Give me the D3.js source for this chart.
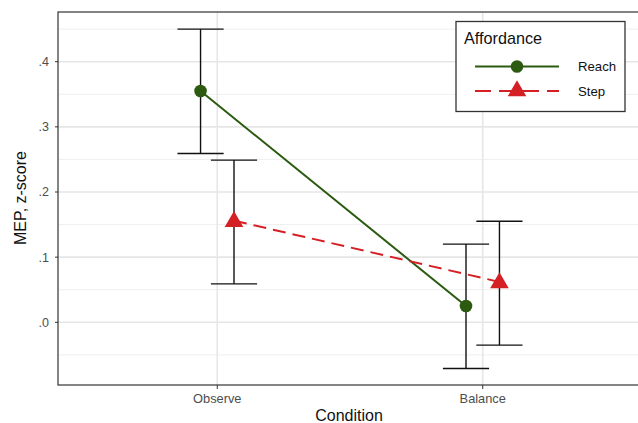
<!DOCTYPE html>
<html><head><meta charset="utf-8">
<script src="https://cdn.jsdelivr.net/npm/d3@7"></script>
<style>body{margin:0;background:#fff}svg{display:block}text{font-family:Arial,"Liberation Sans",sans-serif}</style>
</head><body><div id="chart"></div>
<script>
const categories = ["Observe", "Balance"];
const seriesNames = ["Reach", "Step"];
const reachMean = [0.355, 0.025];
const reachLow  = [0.259, -0.071];
const reachHigh = [0.450, 0.120];
const stepMean  = [0.156, 0.062];
const stepLow   = [0.059, -0.035];
const stepHigh  = [0.249, 0.155];
const yTicks = [0, 0.1, 0.2, 0.3, 0.4];
const yTickLabels = [".0", ".1", ".2", ".3", ".4"];
const yMinor = [-0.05, 0.05, 0.15, 0.25, 0.35, 0.45];

const W = 638, H = 423;
const P = {left: 58, top: 12, right: 642, bottom: 385};
const svg = d3.select("#chart").append("svg").attr("width", W).attr("height", H);

const x = d3.scaleLinear().domain([0.4, 2.6]).range([P.left, P.right]);
const y = d3.scaleLinear().domain([0, 0.4]).range([322.3, 61.7]);
const dodge = 0.063;
const colors = {Reach: "#2b5a10", Step: "#d42024"};

// grid
const g = svg.append("g");
g.selectAll(".minor").data(yMinor).join("line")
  .attr("x1", P.left).attr("x2", P.right).attr("y1", d => y(d)).attr("y2", d => y(d))
  .attr("stroke", "#efefef").attr("stroke-width", 1);
g.selectAll(".major").data(yTicks).join("line")
  .attr("x1", P.left).attr("x2", P.right).attr("y1", d => y(d)).attr("y2", d => y(d))
  .attr("stroke", "#e6e6e6").attr("stroke-width", 1.6);
g.selectAll(".vmaj").data(categories).join("line")
  .attr("x1", (d,i) => x(i+1)).attr("x2", (d,i) => x(i+1)).attr("y1", P.top).attr("y2", P.bottom)
  .attr("stroke", "#e6e6e6").attr("stroke-width", 1.6);

const series = [
  {name: "Reach", mean: reachMean, low: reachLow, high: reachHigh, off: -dodge, dash: null},
  {name: "Step", mean: stepMean, low: stepLow, high: stepHigh, off: dodge, dash: "13,7"}
];

// error bars
const capHalf = 0.087;
series.forEach(s => {
  const eg = svg.append("g").attr("stroke", "#111").attr("stroke-width", 1.4).attr("fill", "none");
  categories.forEach((c, i) => {
    const cx = i + 1 + s.off;
    eg.append("line").attr("x1", x(cx)).attr("x2", x(cx)).attr("y1", y(s.low[i])).attr("y2", y(s.high[i]));
    [s.low[i], s.high[i]].forEach(v => {
      eg.append("line").attr("x1", x(cx - capHalf)).attr("x2", x(cx + capHalf)).attr("y1", y(v)).attr("y2", y(v));
    });
  });
});

// lines and points
const tri = d3.symbol().type(d3.symbolTriangle).size(150);
series.forEach(s => {
  const pts = categories.map((c, i) => [x(i + 1 + s.off), y(s.mean[i])]);
  svg.append("path").attr("d", d3.line()(pts)).attr("fill", "none")
    .attr("stroke", colors[s.name]).attr("stroke-width", 2)
    .attr("stroke-dasharray", s.dash);
  pts.forEach(p => {
    if (s.name === "Reach") {
      svg.append("circle").attr("cx", p[0]).attr("cy", p[1]).attr("r", 6.3).attr("fill", colors[s.name]);
    } else {
      svg.append("path").attr("d", tri).attr("transform", `translate(${p[0]},${p[1]+1})`).attr("fill", colors[s.name]);
    }
  });
});

// panel border
svg.append("rect").attr("x", P.left).attr("y", P.top).attr("width", P.right - P.left).attr("height", P.bottom - P.top)
  .attr("fill", "none").attr("stroke", "#333").attr("stroke-width", 1.2);

// y axis ticks & labels
yTicks.forEach((t, i) => {
  svg.append("line").attr("x1", P.left - 3).attr("x2", P.left).attr("y1", y(t)).attr("y2", y(t)).attr("stroke", "#333");
  svg.append("text").attr("x", P.left - 9).attr("y", y(t)).attr("dy", "0.35em").attr("text-anchor", "end")
    .attr("font-size", 12.5).attr("fill", "#4d4d4d").text(yTickLabels[i]);
});
// x axis ticks & labels
categories.forEach((c, i) => {
  svg.append("line").attr("x1", x(i+1)).attr("x2", x(i+1)).attr("y1", P.bottom).attr("y2", P.bottom + 4).attr("stroke", "#333");
  svg.append("text").attr("x", x(i+1)).attr("y", 403).attr("text-anchor", "middle")
    .attr("font-size", 12.8).attr("fill", "#4d4d4d").text(c);
});

// axis titles
svg.append("text").attr("x", 349).attr("y", 421).attr("text-anchor", "middle").attr("font-size", 16).attr("fill", "#111").text("Condition");
svg.append("text").attr("transform", "translate(26,198) rotate(-90)").attr("text-anchor", "middle")
  .attr("font-size", 16).attr("fill", "#111").text("MEP, z-score");

// legend
const L = svg.append("g");
L.append("rect").attr("x", 456).attr("y", 21.5).attr("width", 169).attr("height", 90)
  .attr("fill", "#fff").attr("stroke", "#333").attr("stroke-width", 1.3);
L.append("text").attr("x", 464).attr("y", 44).attr("font-size", 16.2).attr("fill", "#111").text("Affordance");
const ly = [66.5, 91];
series.forEach((s, i) => {
  L.append("line").attr("x1", 475).attr("x2", 559).attr("y1", ly[i]).attr("y2", ly[i])
    .attr("stroke", colors[s.name]).attr("stroke-width", 2).attr("stroke-dasharray", s.name === "Step" ? "16,8" : null);
  if (s.name === "Reach") L.append("circle").attr("cx", 517).attr("cy", ly[i]).attr("r", 6.3).attr("fill", colors[s.name]);
  else L.append("path").attr("d", tri).attr("transform", `translate(517,${ly[i]})`).attr("fill", colors[s.name]);
  L.append("text").attr("x", 578).attr("y", ly[i]).attr("dy", "0.35em").attr("font-size", 13.2).attr("fill", "#111").text(s.name);
});
</script></body></html>
